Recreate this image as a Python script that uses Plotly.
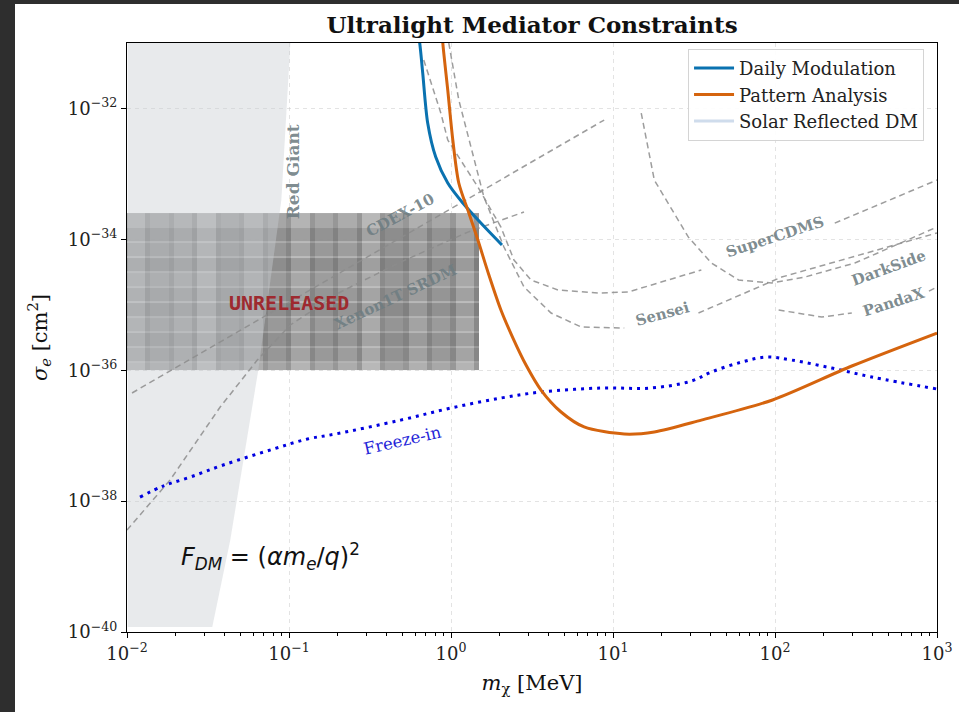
import numpy as np
import plotly.graph_objects as go

# ---- curves (mass in MeV, cross-section in cm^2) ----
dm_mass = [0.614, 0.641, 0.669, 0.718, 0.805, 0.955, 1.183, 1.529, 2.063]
dm_sigma = [1.88e-31, 1.0e-31, 3.48e-32, 6.0e-33, 1.81e-33, 7.26e-34, 3.59e-34, 1.77e-34, 8.18e-35]

pa_mass = [0.877, 0.890, 0.955, 1.026, 1.117, 1.289, 1.465, 1.714, 2.033, 2.412, 2.904, 3.595,
           4.78, 6.63, 11.73, 17.99, 35.1, 96.6, 297.9, 1000]
pa_sigma = [1.88e-31, 1.0e-31, 1.91e-32, 3.30e-33, 7.26e-34, 2.52e-34, 9.77e-35, 2.85e-35,
            8.32e-36, 3.10e-36, 1.20e-36, 4.98e-37, 2.30e-37, 1.36e-37, 1.06e-37, 1.14e-37,
            1.73e-37, 3.51e-37, 1.16e-36, 3.70e-36]

fi_mass = [0.01203, 0.0167, 0.02454, 0.03927, 0.0801, 0.130, 0.1937, 0.489, 0.997, 2.033,
           3.595, 8.45, 17.24, 30.47, 40.52, 62.1, 88.7, 126.7, 224, 396, 1000]
fi_sigma = [1.15e-38, 1.70e-38, 2.33e-38, 3.56e-38, 6.25e-38, 8.89e-38, 1.06e-37, 1.73e-37,
            2.64e-37, 3.76e-37, 4.64e-37, 5.35e-37, 5.35e-37, 6.84e-37, 9.40e-37, 1.33e-36,
            1.59e-36, 1.43e-36, 1.08e-36, 7.87e-37, 5.16e-37]

rg_mass = [0.0101, 0.0336, 0.0434, 0.0646, 0.0897, 0.1020, 0.1035, 0.0101]
rg_sigma = [1.19e-40, 1.19e-40, 2.54e-39, 1.0e-36, 3.99e-34, 1.0e-31, 1.9e-31, 1.9e-31]

cdex_mass = [0.01074, 8.82]
cdex_sigma = [4.49e-37, 6.65e-33]

xenon_mass = [0.01, 0.01845, 0.0376, 0.0637, 0.1020, 0.2080, 0.489, 1.271, 2.822]
xenon_sigma = [3.61e-39, 2.10e-38, 2.74e-37, 1.43e-36, 4.91e-36, 1.57e-35, 4.50e-35, 1.29e-34, 2.62e-34]

scdms_mass = [0.679, 0.865, 0.955, 1.465, 2.033, 2.447, 3.118, 4.58, 8.10, 12.42, 35.1, None, 233.8, 1000]
scdms_sigma = [5.50e-32, 8.51e-33, 3.30e-33, 6.31e-34, 1.54e-34, 4.83e-35, 2.39e-35, 1.68e-35,
               1.51e-35, 1.57e-35, 3.40e-35, None, 1.77e-34, 8.05e-34]

sensei_mass = [0.969, 1.117, 1.596, 2.122, 2.822, 4.146, 6.36, 11.73, None, 33.7, 109.9, 1000]
sensei_sigma = [1.0e-31, 1.35e-32, 4.44e-34, 7.64e-35, 1.87e-35, 7.48e-36, 4.57e-36, 4.41e-36,
                None, 7.48e-36, 2.65e-35, 1.25e-34]

darkside_mass = [14.94, 17.99, 29.2, 40.5, 59.6, 95.3, 152.5, 311, 1000]
darkside_sigma = [8.51e-33, 8.05e-34, 1.08e-34, 4.35e-35, 2.39e-35, 2.15e-35, 2.65e-35, 4.35e-35, 1.54e-34]

pandax_mass = [105.3, 194.3, 297.9, None, 892, 1000]
pandax_sigma = [8.32e-36, 6.50e-36, 7.48e-36, None, 1.62e-35, 1.87e-35]

# curve labels: (text, log10 mass, log10 sigma, angle)
curve_labels = [
    ("CDEX-10", -0.311, -33.63, -28),
    ("Xenon1T SRDM", -0.342, -34.88, -25),
    ("SuperCDMS", 1.998, -33.965, -18),
    ("Sensei", 1.305, -35.14, -15),
    ("DarkSide", 2.703, -34.44, -20),
    ("PandaX", 2.734, -34.96, -18),
]

# redacted block extent and its mosaic shading
box_mass = (0.01, 1.49)
box_sigma = (1e-36, 2.52e-34)
mosaic_col_gray = [160, 146, 152, 164, 142, 156, 148, 162, 150, 154, 166, 144, 158, 150, 162]
mosaic_row_off = [16, -6, 22, 0, 24, -10, 20, 4, 22, -4, 24, -8, 20, 2, 22, -6, 20, 0, 24, 16]

x_ticks = [1e-2, 1e-1, 1e0, 1e1, 1e2, 1e3]
x_tick_text = ["10<sup>−2</sup>", "10<sup>−1</sup>", "10<sup>0</sup>", "10<sup>1</sup>",
               "10<sup>2</sup>", "10<sup>3</sup>"]
y_ticks = [1e-40, 1e-38, 1e-36, 1e-34, 1e-32]
y_tick_text = ["10<sup>−40</sup>", "10<sup>−38</sup>", "10<sup>−36</sup>", "10<sup>−34</sup>",
               "10<sup>−32</sup>"]

SERIF = "DejaVu Serif"
GRAY_DASH = "rgba(140,140,140,0.85)"
LABEL_GRAY = "rgba(110,125,130,0.9)"

fig = go.Figure()

# Red Giant excluded region
fig.add_trace(go.Scatter(x=rg_mass, y=rg_sigma, fill="toself", mode="lines",
                         line=dict(width=0), fillcolor="rgba(200,204,210,0.42)",
                         showlegend=False, hoverinfo="skip"))

# mosaic over the redacted region
lx0, lx1 = np.log10(box_mass[0]), np.log10(box_mass[1])
ly0, ly1 = np.log10(box_sigma[0]), np.log10(box_sigma[1])
ncol = len(mosaic_col_gray)
per = (lx1 - lx0) / ncol
xe = []
col_vals = []
for k, g in enumerate(mosaic_col_gray):
    xe += [lx0 + k * per, lx0 + (k + 0.78) * per]
    col_vals += [g, 132]
xe.append(lx1)
# row pattern measured from the top edge in fractions of height
h_parts = [15] + [13, 2] * 9 + [7]
tot = sum(h_parts)
fr = np.concatenate([[0], np.cumsum(h_parts) / tot])
ye = ly1 - fr * (ly1 - ly0)
z = []
for i in range(len(h_parts)):
    z.append([min(230, max(90, c + mosaic_row_off[i])) for c in col_vals])
ye = ye[::-1]
z = z[::-1]
fig.add_trace(go.Heatmap(x=10 ** np.array(xe), y=10 ** ye, z=z, zmin=0, zmax=255,
                         colorscale=[[0, "rgb(0,0,0)"], [1, "rgb(255,255,255)"]],
                         showscale=False, hoverinfo="skip", opacity=0.97))

# existing experimental limits
for mx, sy in [(cdex_mass, cdex_sigma), (xenon_mass, xenon_sigma), (scdms_mass, scdms_sigma),
               (sensei_mass, sensei_sigma), (darkside_mass, darkside_sigma),
               (pandax_mass, pandax_sigma)]:
    fig.add_trace(go.Scatter(x=mx, y=sy, mode="lines", connectgaps=False,
                             line=dict(color=GRAY_DASH, width=1.5, dash="6px,4px"),
                             showlegend=False, hoverinfo="skip"))

# freeze-in target
fig.add_trace(go.Scatter(x=fi_mass, y=fi_sigma, mode="lines", line_shape="spline",
                         line=dict(color="#0000e0", width=3, dash="3px,5px"),
                         showlegend=False, hoverinfo="skip"))

fig.add_trace(go.Scatter(x=dm_mass, y=dm_sigma, mode="lines", name="Daily Modulation",
                         line=dict(color="#0a72b0", width=3, shape="spline", smoothing=0.8)))
fig.add_trace(go.Scatter(x=pa_mass, y=pa_sigma, mode="lines", name="Pattern Analysis",
                         line=dict(color="#d5640e", width=3, shape="spline", smoothing=0.8)))
fig.add_trace(go.Scatter(x=[None], y=[None], mode="lines", name="Solar Reflected DM",
                         line=dict(color="#cfdcec", width=3)))

ann = []
for txt, ax_, ay_, ang in curve_labels:
    ann.append(dict(x=ax_, y=ay_, xref="x", yref="y", text="<b>%s</b>" % txt, showarrow=False,
                    textangle=ang, font=dict(family=SERIF, size=15, color=LABEL_GRAY)))
ann.append(dict(x=-0.973, y=-32.97, xref="x", yref="y", text="<b>Red Giant</b>", showarrow=False,
                textangle=-90, font=dict(family=SERIF, size=17, color=LABEL_GRAY)))
ann.append(dict(x=-0.298, y=-37.07, xref="x", yref="y", text="Freeze-in", showarrow=False,
                textangle=-13, font=dict(family=SERIF, size=16.5, color="#2424d8")))
ann.append(dict(x=-0.998, y=-34.97, xref="x", yref="y", text="<b>UNRELEASED</b>", showarrow=False,
                font=dict(family="DejaVu Sans Mono", size=20, color="#9e2a2f")))
ann.append(dict(x=-1.115, y=-38.85, xref="x", yref="y",
                text="<i>F</i><sub><i>DM</i></sub> = (<i>αm</i><sub><i>e</i></sub>/<i>q</i>)<sup>2</sup>",
                showarrow=False, font=dict(family="DejaVu Sans", size=24, color="#111111")))

axis_common = dict(type="log", showline=True, linecolor="black", linewidth=1.3, mirror=True,
                   ticks="outside", ticklen=5, tickcolor="black", tickwidth=1.2,
                   showgrid=True, gridcolor="rgba(200,200,200,0.5)", griddash="4px,4px",
                   gridwidth=1, zeroline=False, automargin=False,
                   tickfont=dict(family=SERIF, size=18, color="#222222"))

minor_x = [m * 10.0 ** e for e in range(-2, 3) for m in range(2, 10)]

fig.update_layout(
    width=959, height=712,
    margin=dict(l=127, r=22, t=43, b=80),
    paper_bgcolor="#2e2e2e", plot_bgcolor="white",
    title=dict(text="<b>Ultralight Mediator Constraints</b>", x=0.5, xref="paper",
               y=1 - 25 / 712, yanchor="middle",
               font=dict(family=SERIF, size=23, color="#111111")),
    xaxis=dict(axis_common, range=[-2, 3], tickvals=x_ticks, ticktext=x_tick_text,
               minor=dict(tickvals=minor_x, ticks="outside", ticklen=3, tickcolor="black",
                          showgrid=False),
               title=dict(text="<i>m</i><sub>χ</sub> [MeV]", standoff=12,
                          font=dict(family=SERIF, size=21, color="#111111"))),
    yaxis=dict(axis_common, range=[-40, -31], tickvals=y_ticks, ticktext=y_tick_text,
               title=dict(text="<i>σ</i><sub><i>e</i></sub> [cm<sup>2</sup>]", standoff=14,
                          font=dict(family=SERIF, size=21, color="#111111"))),
    legend=dict(x=0.984, y=0.99, xanchor="right", yanchor="top", itemwidth=40,
                bgcolor="rgba(255,255,255,0.9)", bordercolor="#d4d4d4", borderwidth=1,
                font=dict(family=SERIF, size=18, color="#222222")),
    annotations=ann,
    shapes=[dict(type="rect", xref="paper", yref="paper", layer="below",
                 x0=(15 - 127) / 810, x1=1.2, y0=-0.3, y1=(632 - 4) / 589,
                 fillcolor="white", line=dict(width=0))],
)

fig.write_html("out.html")
